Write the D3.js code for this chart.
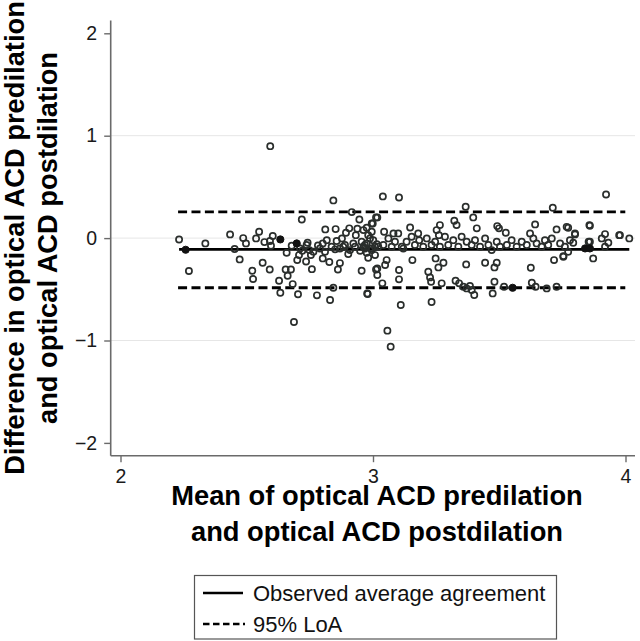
<!DOCTYPE html>
<html><head><meta charset="utf-8">
<script src="https://cdn.jsdelivr.net/npm/d3@7"></script>
<style>html,body{margin:0;padding:0;background:#fff;}svg{display:block;}</style>
</head><body>
<svg id="chart" width="640" height="641"></svg>
<script>
// ---- data ----
const meanVals = [
2.232,2.271,2.336,2.434,2.452,2.472,2.486,2.497,2.522,2.525,2.537,2.549,2.563,2.570,2.591,2.592,2.603,2.596,2.628,2.633,
2.654,2.658,2.662,2.675,2.678,2.682,2.687,2.703,2.700,2.707,2.718,2.720,2.735,2.741,2.748,2.754,2.758,2.778,2.782,2.801,
2.801,2.811,2.817,2.827,2.830,2.843,2.843,2.852,2.856,2.861,2.869,2.877,2.882,2.893,2.902,2.906,2.916,2.922,2.932,2.938,
2.946,2.955,2.962,2.979,2.981,2.988,2.999,2.995,3.008,3.012,3.017,3.017,2.593,3.070,
2.711,2.737,2.764,2.790,2.810,2.836,2.850,2.869,2.889,2.909,2.929,2.949,2.968,2.975,2.995,3.015,
3.039,3.103,3.017,3.044,3.147,3.252,3.265,3.322,3.331,3.367,3.397,3.411,3.492,3.526,3.642,3.712,3.727,3.773,3.800,3.857,
3.854,3.872,3.906,3.919,3.932,3.975,4.015,3.923,
2.977,3.012,3.037,3.054,3.103,3.103,3.110,3.156,3.219,3.226,3.232,3.248,3.259,3.272,3.327,3.401,3.369,3.444,3.474,3.481,
3.481,3.519,3.625,3.629,3.688,3.727,3.717,3.754,3.057,
2.995,2.975,3.081,3.120,3.179,3.261,3.499,3.048,3.230,3.279,3.341,3.358,3.371,3.384,3.391,3.490,3.644,
2.962,2.981,2.955,2.975,3.001,2.968,2.995,3.021,3.008,3.041,3.061,3.074,3.087,3.100,3.114,3.133,3.153,3.166,3.183,3.199,
3.213,3.232,3.246,3.265,3.285,3.298,3.318,3.338,3.351,3.371,3.391,3.404,3.424,3.444,3.457,3.470,3.490,3.503,3.530,3.549,
3.569,3.589,3.609,3.622,3.635,3.648,3.668,3.681,3.694,3.708,3.741,3.760,3.780,
3.859,3.767,3.800,3.793,3.859,3.919,3.773,3.754,3.978
];
const diffVals = [
-0.013,-0.322,-0.052,0.036,-0.107,-0.208,0.000,-0.052,-0.319,-0.400,-0.003,0.062,-0.241,-0.039,-0.306,-0.029,0.020,-0.075,-0.416,-0.533,
-0.306,-0.143,-0.368,-0.306,-0.075,-0.449,-0.820,-0.549,-0.215,-0.166,0.182,-0.124,-0.228,-0.045,-0.117,-0.166,-0.303,-0.559,-0.072,-0.198,
-0.052,0.085,-0.020,-0.234,-0.605,0.368,-0.485,0.088,-0.029,-0.306,-0.244,-0.003,-0.085,0.052,-0.156,0.095,0.254,-0.052,0.029,0.091,
0.182,-0.319,-0.085,-0.546,-0.192,-0.003,0.143,0.062,-0.085,0.202,-0.296,-0.361,0.898,-1.060,
-0.101,-0.068,-0.134,-0.101,-0.134,-0.085,-0.110,-0.101,-0.068,-0.117,-0.085,-0.124,-0.068,-0.143,-0.101,-0.059,
0.407,0.397,0.202,0.062,0.104,0.078,0.127,0.169,0.127,0.306,0.202,0.095,0.117,0.052,0.134,0.296,0.085,0.101,0.036,0.127,
-0.036,-0.198,-0.003,0.039,-0.045,0.029,-0.003,0.426,
-0.540,-0.306,-0.442,-0.215,-0.312,-0.403,-0.654,-0.215,-0.329,-0.384,-0.624,-0.198,-0.286,-0.442,-0.416,-0.556,-0.257,-0.241,-0.540,-0.426,
-0.286,-0.475,-0.290,-0.436,-0.491,-0.475,-0.215,-0.182,-0.904,
0.143,0.101,0.046,-0.101,0.046,0.029,0.095,-0.263,-0.426,-0.241,-0.442,-0.475,-0.491,-0.468,-0.507,-0.241,-0.475,
0.078,0.029,-0.036,-0.052,-0.020,-0.101,-0.117,-0.085,-0.166,-0.068,-0.003,-0.085,-0.036,0.046,-0.085,-0.036,0.013,-0.068,-0.020,-0.085,
-0.003,-0.068,-0.036,-0.085,0.013,-0.068,-0.020,-0.085,0.013,-0.036,-0.068,-0.020,-0.085,-0.003,-0.068,-0.117,-0.036,-0.085,-0.068,-0.020,
-0.085,-0.036,-0.068,0.046,-0.003,-0.052,-0.085,-0.020,-0.068,-0.003,-0.052,-0.085,-0.020,
0.120,0.110,0.046,-0.045,-0.036,-0.085,-0.134,-0.176,0.029
];
// overlapping (solid-looking) markers
const solidMean = [2.258, 2.633, 2.698, 3.553, 3.840, 3.859];
const solidDiff = [-0.114, -0.013, -0.052, -0.485, -0.101, -0.101];

const meanDiff = -0.11;   // observed average agreement
const upperLoA = 0.257;   // 95% limits of agreement
const lowerLoA = -0.485;

const xTicks = [2, 3, 4];
const yTicks = [-2, -1, 0, 1, 2];
const gridTicks = [-1, 0, 1];
const xTitle = ["Mean of optical ACD predilation", "and optical ACD postdilation"];
const yTitle = ["Difference in optical ACD predilation", "and optical ACD postdilation"];
const legendLabels = ["Observed average agreement", "95% LoA"];

// ---- drawing ----
const svg = d3.select("#chart");
const FONT = "'Liberation Sans', Arial, Helvetica, sans-serif";
const pLeft = 110.7, pRight = 635, pTop = 20.5, pBottom = 455.7;

const x = d3.scaleLinear().domain([2 - 9.8/252.5, 4 + 9.5/252.5]).range([pLeft, pRight]);
const y = d3.scaleLinear().domain([-2.125, 2.125]).range([pBottom, pTop]);
const fmt = d3.format("d");

// gridlines
svg.append("g").selectAll("line").data(gridTicks).join("line")
  .attr("x1", pLeft).attr("x2", pRight)
  .attr("y1", d => y(d)).attr("y2", d => y(d))
  .attr("stroke", "#e6e6e6").attr("stroke-width", 1);

// axes
const yAxis = svg.append("g").attr("transform", `translate(${pLeft},0)`)
  .call(d3.axisLeft(y).tickValues(yTicks).tickFormat(fmt).tickSize(6.5).tickPadding(7).tickSizeOuter(0));
const xAxis = svg.append("g").attr("transform", `translate(0,${pBottom})`)
  .call(d3.axisBottom(x).tickValues(xTicks).tickFormat(fmt).tickSize(6.5).tickPadding(6.5).tickSizeOuter(0));
[xAxis, yAxis].forEach(g => {
  g.select(".domain").attr("stroke", "#6a6a6a").attr("stroke-width", 1.6);
  g.selectAll(".tick line").attr("stroke", "#6a6a6a").attr("stroke-width", 1.4);
  g.selectAll(".tick text").attr("font-family", FONT).attr("font-size", 19.5).attr("fill", "#1a1a1a");
});
yAxis.select(".domain").attr("d", `M0,${pTop}V${pBottom}`);
xAxis.select(".domain").attr("d", `M${pLeft},0H${pRight}`);

// reference lines
const xr = d3.extent(meanVals);
svg.append("line").attr("x1", x(xr[0])).attr("x2", x(xr[1]))
  .attr("y1", y(meanDiff)).attr("y2", y(meanDiff))
  .attr("stroke", "#000").attr("stroke-width", 2.6);
[upperLoA, lowerLoA].forEach(v => {
  svg.append("line").attr("x1", x(xr[0]) - 1).attr("x2", x(xr[1]) - 4)
    .attr("y1", y(v)).attr("y2", y(v))
    .attr("stroke", "#000").attr("stroke-width", 2.8)
    .attr("stroke-dasharray", "9,4.4");
});

// points
const pts = meanVals.map((m, i) => ({m, d: diffVals[i]}));
svg.append("g").selectAll("circle").data(pts).join("circle")
  .attr("cx", p => x(p.m)).attr("cy", p => y(p.d)).attr("r", 3.1)
  .attr("fill", "none").attr("stroke", "#2a2e2c").attr("stroke-width", 1.7);
svg.append("g").selectAll("circle").data(solidMean.map((m, i) => ({m, d: solidDiff[i]}))).join("circle")
  .attr("cx", p => x(p.m)).attr("cy", p => y(p.d)).attr("r", 3.6)
  .attr("fill", "#111").attr("stroke", "#111").attr("stroke-width", 1);

// axis titles
const xt = svg.append("text").attr("font-family", FONT).attr("font-weight", "bold")
  .attr("font-size", 27.3).attr("fill", "#000").attr("text-anchor", "middle");
xTitle.forEach((t, i) => xt.append("tspan").attr("x", 377).attr("y", 505 + i * 36).text(t));

const yt = svg.append("text").attr("font-family", FONT).attr("font-weight", "bold")
  .attr("font-size", 27.3).attr("fill", "#000").attr("text-anchor", "middle")
  .attr("transform", "translate(0,238) rotate(-90)");
yTitle.forEach((t, i) => yt.append("tspan").attr("x", 0).attr("y", 24 + i * 32.5).text(t));

// legend
const lg = svg.append("g");
lg.append("rect").attr("x", 194.5).attr("y", 575.5).attr("width", 362).attr("height", 63.5)
  .attr("fill", "#fff").attr("stroke", "#555").attr("stroke-width", 1.2);
lg.append("line").attr("x1", 203).attr("x2", 243).attr("y1", 593).attr("y2", 593)
  .attr("stroke", "#000").attr("stroke-width", 2.6);
lg.append("line").attr("x1", 203).attr("x2", 245).attr("y1", 624).attr("y2", 624)
  .attr("stroke", "#000").attr("stroke-width", 2.6).attr("stroke-dasharray", "6.5,3.5");
legendLabels.forEach((t, i) => {
  lg.append("text").attr("x", 253).attr("y", 600.5 + i * 31)
    .attr("font-family", FONT).attr("font-size", 22).attr("fill", "#111").text(t);
});
</script>
</body></html>
